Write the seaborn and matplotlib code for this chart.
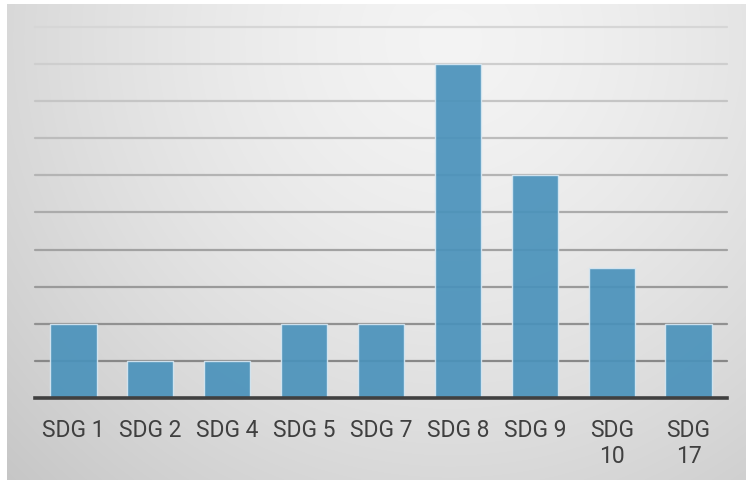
import numpy as np
import pandas as pd
import matplotlib
matplotlib.use("Agg")
import matplotlib.pyplot as plt
import seaborn as sns

categories = ["SDG 1", "SDG 2", "SDG 4", "SDG 5", "SDG 7", "SDG 8", "SDG 9", "SDG\n10", "SDG\n17"]
counts = [2, 1, 1, 2, 2, 9, 6, 3.5, 2]
y_max = 10

sns.set_theme(style="white")
plt.rcParams["font.family"] = ["Roboto", "DejaVu Sans"]

W, H = 746, 480
fig = plt.figure(figsize=(W / 100, H / 100), dpi=100, facecolor="white")

# soft radial backdrop, brightest near the upper middle-right
bg = fig.add_axes([7 / W, 0, (W - 7) / W, (H - 4) / H])
bg.set_axis_off()
xx, yy = np.meshgrid(np.arange(7, W), np.arange(4, H))
d = np.hypot(xx - 450, yy - 40)
shade = 0.955 - 0.18 * (d / 630) ** 1.5
bg.imshow(np.dstack([shade] * 3).clip(0, 1), aspect="auto", extent=[0, 1, 0, 1])
bg.set_xlim(0, 1)
bg.set_ylim(0, 1)

left, right, top, bottom = 35, 727, 27, 398
ax = fig.add_axes([left / W, (H - bottom) / H, (right - left) / W, (bottom - top) / H])
ax.patch.set_alpha(0)

# grid lines darken toward the baseline
top_col = np.array([0.84, 0.84, 0.84])
bot_col = np.array([0.50, 0.50, 0.50])
for v in range(1, y_max + 1):
    t = v / y_max
    ax.axhline(v, color=tuple(bot_col + (top_col - bot_col) * t), lw=1.6,
               zorder=0, clip_on=False)

df = pd.DataFrame({"category": categories, "count": counts})
sns.barplot(data=df, x="category", y="count", color="#4a92bb", width=0.6,
            saturation=1, edgecolor="#d6e7f2", linewidth=1.0, alpha=0.92,
            ax=ax, zorder=2)

ax.set_ylim(0, y_max)
ax.set_xlim(-0.5, len(categories) - 0.5)
ax.set_xlabel("")
ax.set_ylabel("")
ax.set_yticks([])
for s in ["top", "right", "left"]:
    ax.spines[s].set_visible(False)
ax.spines["bottom"].set_color("#404040")
ax.spines["bottom"].set_linewidth(2.6)
ax.spines["bottom"].set_zorder(3)
ax.tick_params(axis="x", length=0, pad=15, labelsize=16.5, labelcolor="#404040")
for lbl in ax.get_xticklabels():
    lbl.set_linespacing(1.2)
    lbl.set_verticalalignment("top")

fig.savefig("out.png", dpi=100, facecolor="white")
